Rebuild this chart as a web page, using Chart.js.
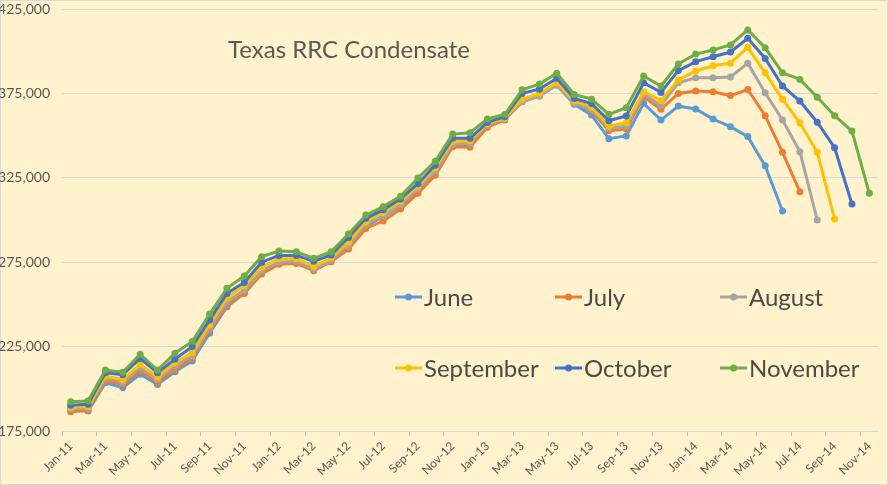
<!DOCTYPE html>
<html>
<head>
<meta charset="utf-8">
<script src="https://cdn.jsdelivr.net/npm/chart.js@4.4.0/dist/chart.umd.min.js"></script>
<style>
  html, body { margin: 0; padding: 0; background: #FFF2CC; }
  #wrap { width: 888px; height: 485px; position: relative; }
</style>
</head>
<body>
<div id="wrap"><canvas id="myChart"></canvas></div>
<script>
const months = [
    'Jan-11','Feb-11','Mar-11','Apr-11','May-11','Jun-11','Jul-11','Aug-11','Sep-11','Oct-11','Nov-11','Dec-11',
    'Jan-12','Feb-12','Mar-12','Apr-12','May-12','Jun-12','Jul-12','Aug-12','Sep-12','Oct-12','Nov-12','Dec-12',
    'Jan-13','Feb-13','Mar-13','Apr-13','May-13','Jun-13','Jul-13','Aug-13','Sep-13','Oct-13','Nov-13','Dec-13',
    'Jan-14','Feb-14','Mar-14','Apr-14','May-14','Jun-14','Jul-14','Aug-14','Sep-14','Oct-14','Nov-14'
];

const june = [187400,186800,203600,200700,208600,202600,210100,216500,232900,248600,256600,268400,
    274300,274500,270500,275500,283500,296500,302000,308500,318000,328000,344500,344500,
    356000,359500,370000,373500,380000,368500,362200,348200,349800,369100,359200,367500,
    365800,359800,355300,349400,332100,305300];

const july = [186400,187200,205000,202500,210500,203800,211500,218000,234500,249500,256600,268000,
    273800,274300,270000,275300,282800,295000,299400,306500,315800,326500,343400,343100,
    355000,359200,370500,373800,380500,369500,364500,352900,353900,373000,365600,375000,
    376400,376000,373700,377300,361800,340100,316800];

const august = [188000,188500,206500,204000,212500,205500,213500,219500,236000,251500,258500,270000,
    275000,275500,271000,276000,285000,297500,302500,309000,318500,329000,345000,345500,
    356500,360000,370000,373500,380000,369000,365500,354300,355500,374500,368000,381300,
    384300,384300,384700,392900,375400,359200,340500,300000];

const september = [189000,189500,207500,205500,214500,207000,215500,221500,238000,254000,261000,272000,
    277000,277000,272500,277500,287000,299000,304500,311000,320000,331000,346500,347000,
    357000,360500,371500,375000,381500,370500,367000,355700,357600,376000,370700,383000,
    388300,391400,392900,402300,387200,371500,357600,340100,300600];

const october = [190300,190800,209500,208300,218000,209500,217500,225000,240800,256500,263000,275000,
    279000,279000,275500,279300,289700,301000,306000,312500,321500,332500,348400,348400,
    357800,361200,375000,377500,384000,372000,369000,358800,361600,381300,375600,388500,
    393800,396700,399500,407700,395700,379400,370500,357900,342800,309500];

const november = [192300,192800,211100,209800,220400,211100,221000,228000,244300,259500,266800,278300,
    281600,281200,277300,281200,291700,302900,307900,314000,324900,334800,350900,351700,
    359900,362500,377200,380500,387000,374400,371600,362600,366500,385300,379400,392400,
    398300,400700,403700,412600,402000,387200,383300,372700,361800,352700,315800];

const yTicks = [175000, 225000, 275000, 325000, 375000, 425000];

const seriesNames = ['June', 'July', 'August', 'September', 'October', 'November'];
const seriesData = [june, july, august, september, october, november];
const seriesColors = ['#5B9BD5', '#ED7D31', '#A5A5A5', '#FFC000', '#4472C4', '#70AD47'];

const textColor = '#595959';
const fontFamily = 'Lato, "Open Sans", sans-serif';

const backgroundPlugin = {
    id: 'background',
    beforeDraw(chart) {
        const c = chart.ctx;
        c.save();
        c.fillStyle = '#FFF2CC';
        c.fillRect(0, 0, chart.width, chart.height);
        c.strokeStyle = '#D9D9D9';
        c.lineWidth = 1;
        c.strokeRect(0.5, 0.5, chart.width - 1, chart.height - 1);
        c.restore();
    }
};

const titleLegendPlugin = {
    id: 'titleLegend',
    afterDatasetsDraw(chart) {
        const c = chart.ctx;
        c.save();
        c.fillStyle = textColor;
        c.textBaseline = 'middle';
        c.textAlign = 'left';
        c.font = '24px ' + fontFamily;
        c.fillText('Texas RRC Condensate', 228, 50);

        const cols = [395, 555, 720];
        const rows = [297, 368];
        seriesNames.forEach((name, i) => {
            const x = cols[i % 3];
            const y = rows[Math.floor(i / 3)];
            c.strokeStyle = seriesColors[i];
            c.lineWidth = 3;
            c.beginPath();
            c.moveTo(x, y);
            c.lineTo(x + 27, y);
            c.stroke();
            c.fillStyle = seriesColors[i];
            c.beginPath();
            c.arc(x + 13.5, y, 3.5, 0, Math.PI * 2);
            c.fill();
            c.fillStyle = '#4a4a4a';
            c.fillText(name, x + 29, y + 1);
        });
        c.restore();
    }
};

const ctx = document.getElementById('myChart');

const datasets = seriesNames.map((name, i) => ({
    label: name,
    data: seriesData[i],
    borderColor: seriesColors[i],
    backgroundColor: seriesColors[i],
    borderWidth: 3,
    pointRadius: 3.5,
    pointHoverRadius: 3.5,
    pointBorderWidth: 0,
    tension: 0,
    order: seriesNames.length - i
}));

new Chart(ctx, {
    type: 'line',
    data: {
        labels: months,
        datasets: datasets
    },
    options: {
        responsive: true,
        maintainAspectRatio: false,
        animation: false,
        layout: {
            padding: { left: 0, right: 10, top: 9, bottom: 0 }
        },
        plugins: {
            legend: { display: false },
            tooltip: { enabled: false }
        },
        scales: {
            x: {
                offset: true,
                grid: {
                    offset: true,
                    drawOnChartArea: false,
                    drawTicks: true,
                    tickLength: 5,
                    color: (c) => (c.index % 2 === 0 ? '#BFBFBF' : 'rgba(0,0,0,0)')
                },
                border: { display: true, color: '#D9D9D9' },
                ticks: {
                    autoSkip: false,
                    minRotation: 45,
                    maxRotation: 45,
                    color: textColor,
                    font: { family: fontFamily, size: 12 },
                    callback: function (value, index) {
                        return index % 2 === 0 ? months[index] : '';
                    }
                },
                afterFit: (scale) => {
                    scale.height = 54;
                    scale.paddingTop = 0;
                    scale.paddingRight = 0;
                    scale.paddingLeft = 0;
                }
            },
            y: {
                min: 175000,
                max: 425000,
                afterBuildTicks: (scale) => {
                    scale.ticks = yTicks.map(v => ({ value: v }));
                },
                grid: {
                    color: '#D9D9D9',
                    drawTicks: false
                },
                border: { display: false },
                ticks: {
                    color: textColor,
                    padding: 12,
                    font: { family: fontFamily, size: 14 },
                    callback: (v) => v.toLocaleString('en-US')
                },
                afterFit: (scale) => {
                    scale.width = 62;
                    scale.paddingTop = 0;
                    scale.paddingBottom = 0;
                }
            }
        }
    },
    plugins: [backgroundPlugin, titleLegendPlugin]
});
</script>
</body>
</html>
